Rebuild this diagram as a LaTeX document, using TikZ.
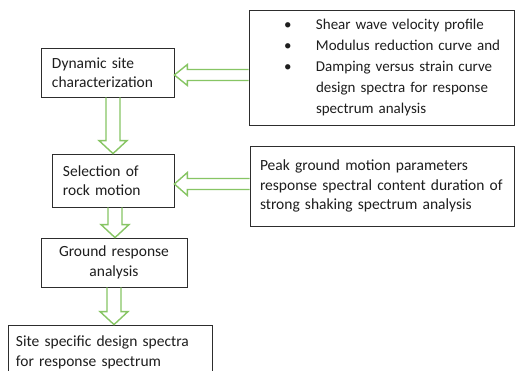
\documentclass[tikz,border=0pt]{standalone}
\usepackage{fontspec}
\setmainfont{Carlito}
\usetikzlibrary{calc}
\definecolor{agreen}{RGB}{135,197,100}
\definecolor{boxline}{RGB}{45,45,45}
\definecolor{txt}{RGB}{30,30,30}
\newcommand\mybul[1]{\mbox{\makebox[59.5pt][l]{\hspace*{27.5pt}\textbullet}#1}}
\newcommand\myind[1]{\mbox{\hspace*{59.5pt}#1}}
\begin{document}
\begin{tikzpicture}[x=1pt,y=-1pt,
  box/.style={draw=boxline, line width=0.8pt, inner sep=0pt, text=txt,
    font={\fontsize{15.5}{19.5}\selectfont}},
  garrow/.style={draw=agreen, line width=1.4pt, line join=miter}]
\fill[white] (0,0) rectangle (515,371);
\useasboundingbox (0,0) rectangle (515,371);
\clip (0,0) rectangle (515,371);

\node[box, minimum width=133pt, minimum height=49pt, text width=111pt, align=left] (b1) at (107.5,72.5) {Dynamic site\\characterization};
\node[box, minimum width=122pt, minimum height=53pt, text width=100pt, align=left] (b2) at (113,180.5) {Selection of\\rock motion};
\node[box, minimum width=146pt, minimum height=49pt, text width=140pt, align=center] (b3) at (114,262.5) {Ground response\\analysis};
\node[box, minimum width=204pt, minimum height=55pt, text width=188pt, align=left] (b4) at (110,352.5) {Site specific design spectra\\for response spectrum};

\node[box, minimum width=265pt, minimum height=115pt, text width=250pt, align=left,
  font={\fontsize{15}{21}\selectfont\spaceskip=0.13em\relax}] (rb1) at (381.5,67.5)
  {\mybul{Shear wave velocity profile}\\
   \mybul{Modulus reduction curve and}\\
   \mybul{Damping versus strain curve}\\
   \myind{design spectra for response}\\
   \myind{spectrum analysis}};
\node[box, minimum width=264pt, minimum height=80pt, text width=244pt, align=left] (rb2) at (382,186)
  {Peak ground motion parameters\\
   response spectral content duration of\\
   strong shaking spectrum analysis};

\coordinate (h1) at (0,75);
\coordinate (h2) at (0,184);
\coordinate (v1) at (113,0);
\coordinate (v2) at (115,0);
\coordinate (v3) at (114,0);

% horizontal arrows
\draw[garrow] let \p1=(b1.east), \p2=(rb1.west), \p3=(h1) in
  (\x2,\y3+5.5pt) -- (\x1+13pt,\y3+5.5pt) -- (\x1+13pt,\y3+10.5pt) -- (\x1,\y3)
  -- (\x1+13pt,\y3-10.5pt) -- (\x1+13pt,\y3-5.5pt) -- (\x2,\y3-5.5pt);
\draw[garrow] let \p1=(b2.east), \p2=(rb2.west), \p3=(h2) in
  (\x2,\y3+5.5pt) -- (\x1+13pt,\y3+5.5pt) -- (\x1+13pt,\y3+11.5pt) -- (\x1,\y3)
  -- (\x1+13pt,\y3-11.5pt) -- (\x1+13pt,\y3-5.5pt) -- (\x2,\y3-5.5pt);

% vertical arrows
\draw[garrow] let \p1=(b1.south), \p2=(b2.north), \p3=(v1) in
  (\x3-7pt,\y1) -- (\x3-7pt,\y2+13pt) -- (\x3-14pt,\y2+13pt) -- (\x3,\y2)
  -- (\x3+14pt,\y2+13pt) -- (\x3+7pt,\y2+13pt) -- (\x3+7pt,\y1);
\draw[garrow] let \p1=(b2.south), \p2=(b3.north), \p3=(v2) in
  (\x3-7pt,\y1) -- (\x3-7pt,\y2+13pt) -- (\x3-14pt,\y2+13pt) -- (\x3,\y2)
  -- (\x3+14pt,\y2+13pt) -- (\x3+7pt,\y2+13pt) -- (\x3+7pt,\y1);
\draw[garrow] let \p1=(b3.south), \p2=(b4.north), \p3=(v3) in
  (\x3-7pt,\y1) -- (\x3-7pt,\y2+13pt) -- (\x3-14pt,\y2+13pt) -- (\x3,\y2)
  -- (\x3+14pt,\y2+13pt) -- (\x3+7pt,\y2+13pt) -- (\x3+7pt,\y1);
\end{tikzpicture}
\end{document}
